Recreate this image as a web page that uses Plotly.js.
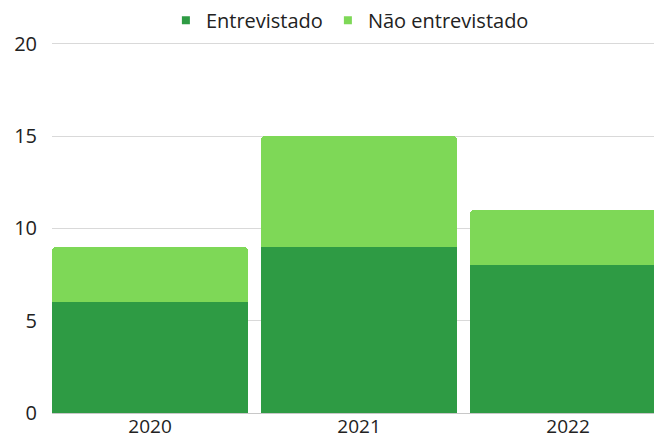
<!DOCTYPE html>
<html>
<head>
<meta charset="utf-8">
<script src="https://cdn.plot.ly/plotly-3.0.1.min.js"></script>
<style>html,body{margin:0;padding:0;background:#fff;}#chart{width:654px;height:439px;}</style>
</head>
<body>
<div id="chart"></div>
<script>
const categories = ["2020", "2021", "2022"];
const entrevistado = [6, 9, 8];
const naoEntrevistado = [3, 6, 3];
const seriesNames = ["Entrevistado", "Não entrevistado"];
const seriesColors = ["#2e9b44", "#7ed857"];
const yTicks = [0, 5, 10, 15, 20];

const traces = [
  {type: "bar", name: seriesNames[0], x: categories, y: entrevistado, legendgroup: "a",
   showlegend: false, marker: {color: seriesColors[0]}, hoverinfo: "skip"},
  {type: "bar", name: seriesNames[1], x: categories, y: naoEntrevistado, legendgroup: "b",
   showlegend: false, marker: {color: seriesColors[1]}, hoverinfo: "skip"},
  // legend swatches (small squares, as in the reference)
  {type: "scatter", mode: "markers", name: seriesNames[0], legendgroup: "a", x: [categories[0]], y: [null],
   marker: {symbol: "square", size: 8, color: seriesColors[0]}, hoverinfo: "skip"},
  {type: "scatter", mode: "markers", name: seriesNames[1], legendgroup: "b", x: [categories[0]], y: [null],
   marker: {symbol: "square", size: 8, color: seriesColors[1]}, hoverinfo: "skip"}
];

const layout = {
  width: 654, height: 439,
  margin: {l: 52, r: 0, t: 42, b: 26},
  barmode: "stack",
  bargap: 0.062,
  barcornerradius: 4,
  paper_bgcolor: "#fff", plot_bgcolor: "#fff",
  font: {family: "'Open Sans', sans-serif", size: 20, color: "#222"},
  showlegend: true,
  legend: {orientation: "h", xref: "container", yref: "container", x: 0.535, xanchor: "center",
           y: 0.954, yanchor: "middle", font: {size: 20, color: "#222"},
           traceorder: "normal", itemwidth: 30, tracegroupgap: 0},
  xaxis: {type: "category", range: [-0.469, 2.411], showgrid: false, ticks: "",
          tickfont: {size: 19, color: "#222"}, showline: false, zeroline: false,
          ticklabelstandoff: 0, fixedrange: true},
  yaxis: {range: [0, 20.1], tickvals: yTicks, showgrid: true, gridcolor: "#d9d9d9", gridwidth: 1,
          zeroline: true, zerolinecolor: "#c8c8c8", zerolinewidth: 1,
          tickfont: {size: 20, color: "#222"}, ticks: "", ticklabelstandoff: 14, fixedrange: true}
};

Plotly.newPlot("chart", traces, layout, {displayModeBar: false, staticPlot: true});
</script>
</body>
</html>
